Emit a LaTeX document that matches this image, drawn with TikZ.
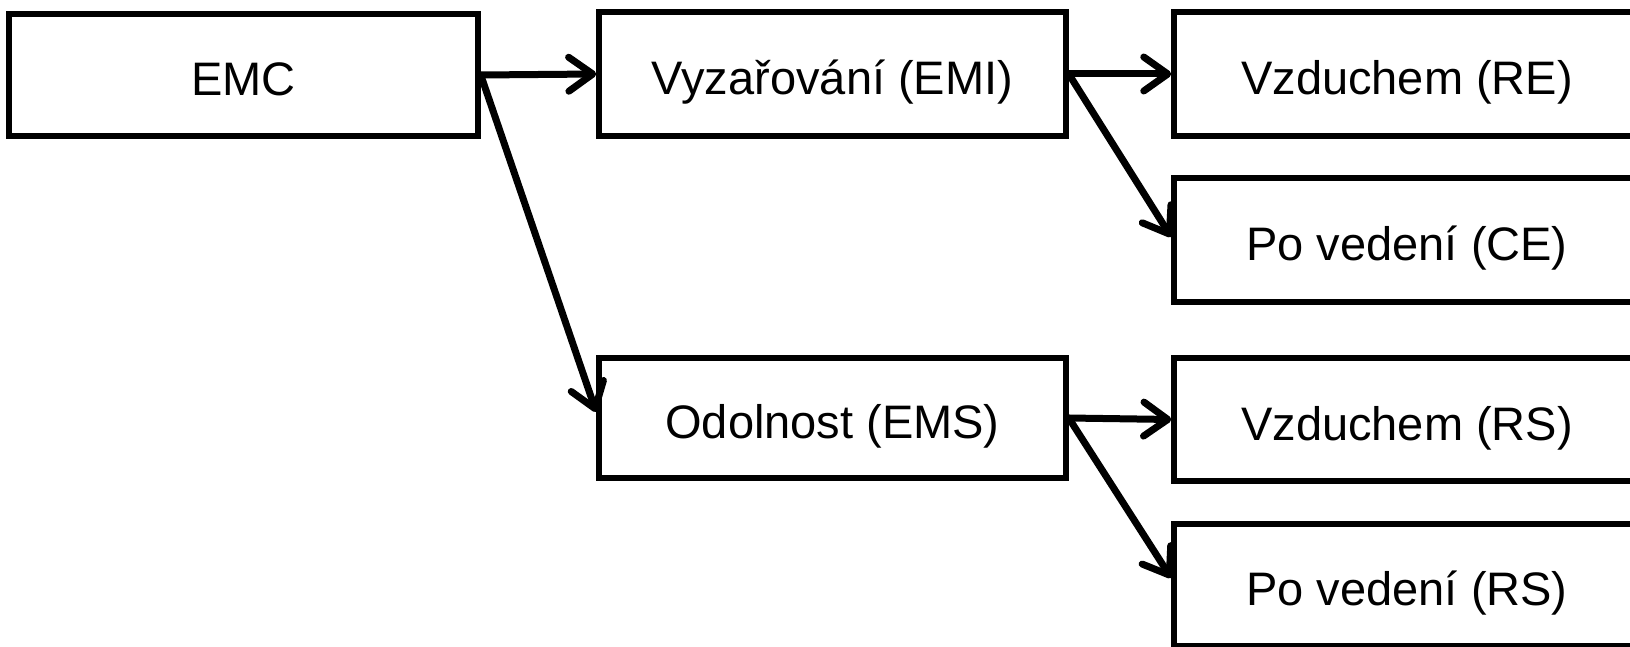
\documentclass[tikz,border=0pt]{standalone}
\usepackage{fontspec}
\setmainfont{Liberation Sans}
\usetikzlibrary{arrows.meta,calc}
\begin{document}
\begin{tikzpicture}[x=1pt,y=-1pt,
  box/.style={draw=black,line width=5.5pt,fill=white,inner sep=0pt,
    text height=41pt,text depth=0pt,
    font=\fontsize{47}{56}\selectfont},
  conn/.style={line width=7pt,line cap=round,
    -{Straight Barb[length=24pt,width=34pt,round]}}]
\useasboundingbox (0,0) rectangle (1630,647);
\clip (0,0) rectangle (1630,647);
\node[box,minimum width=469pt,minimum height=122pt] (emc) at (243.5,75) {EMC};
\node[box,minimum width=467pt,minimum height=124pt] (emi) at (832.5,74) {Vyzařování (EMI)};
\node[box,minimum width=467pt,minimum height=120pt] (ems) at (832.5,418) {Odolnost (EMS)};
\node[box,minimum width=466pt,minimum height=124pt] (re) at (1407,74) {Vzduchem (RE)};
\node[box,minimum width=466pt,minimum height=124pt] (ce) at (1407,240) {Po vedení (CE)};
\node[box,minimum width=466pt,minimum height=123pt] (rs) at (1407,419.5) {Vzduchem (RS)};
\node[box,minimum width=466pt,minimum height=122pt] (rs2) at (1407,585) {Po vedení (RS)};
\draw[conn] (emc.east) -- (emi.west);
\draw[conn] (emc.east) -- ($(ems.west)+(0,-6)$);
\draw[conn] (emi.east) -- (re.west);
\draw[conn] (emi.east) -- ($(ce.west)+(0,-3)$);
\draw[conn] (ems.east) -- (rs.west);
\draw[conn] (ems.east) -- ($(rs2.west)+(0,-7)$);
\end{tikzpicture}
\end{document}
